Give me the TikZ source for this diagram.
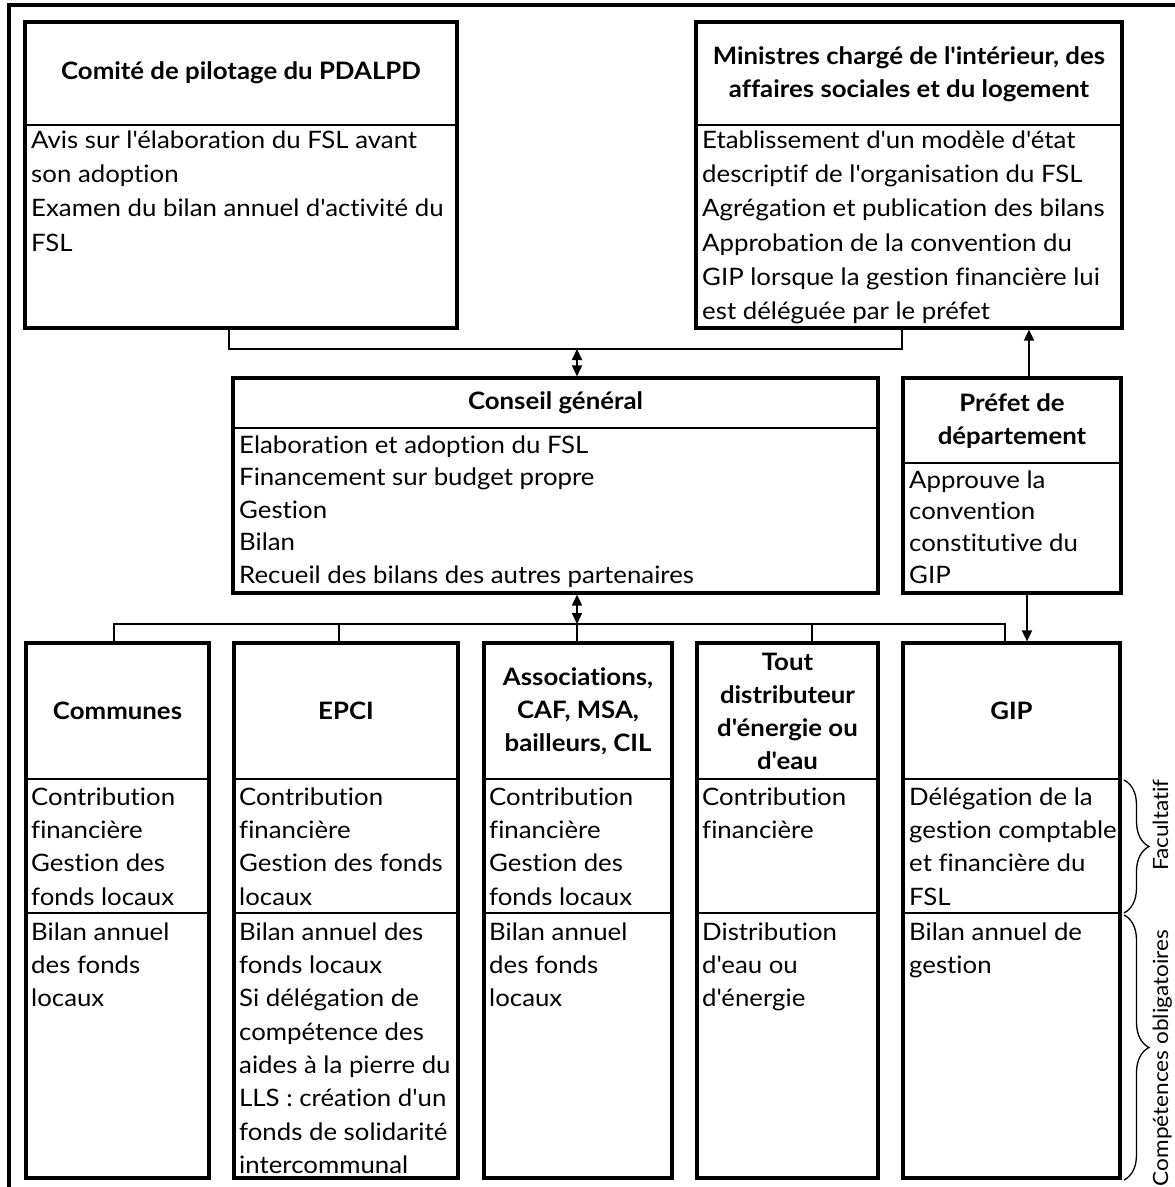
\documentclass[tikz,border=0pt]{standalone}
\usepackage{fontspec}
\setmainfont{Lato}[Ligatures={TeXOff,CommonOff}, FakeStretch=1.075]
\usetikzlibrary{arrows.meta,decorations.pathreplacing}
\tikzset{
  box/.style={draw, line width=3.2pt, inner sep=0pt},
  divline/.style={line width=2.6pt},
  conn/.style={line width=1.8pt},
  arr/.style={conn, -{Triangle[length=11pt,width=10pt]}},
  dblarr/.style={conn, {Triangle[length=11pt,width=10pt]}-{Triangle[length=11pt,width=10pt]}},
  frameline/.style={line width=4pt},
  head/.style={font=\bfseries\fontsize{24}{33}\selectfont, align=center, inner sep=0pt},
  body/.style={anchor=north west, inner sep=0pt, align=left, font=\fontsize{24}{#1}\selectfont},
  side/.style={rotate=90, anchor=base, inner sep=0pt, font=\fontsize{21}{25}\selectfont},
  bracel/.style={decorate, decoration={brace, amplitude=25pt}, line width=1.3pt}
}
\begin{document}
\begin{tikzpicture}[x=1pt,y=-1pt]
\useasboundingbox (0,0) rectangle (1175,1187);
% outer frame
\draw[frameline] (9,1187) -- (9,5) -- (1175,5);

% boxes
\node[box, minimum width=432, minimum height=306] (comite) at (241,175) {};
\node[box, minimum width=426, minimum height=306] (ministres) at (909,175) {};
\node[box, minimum width=645, minimum height=215] (conseil) at (555.5,485.5) {};
\node[box, minimum width=218, minimum height=215] (prefet) at (1012,485.5) {};
\node[box, minimum width=183, minimum height=535] (communes) at (117.5,910.5) {};
\node[box, minimum width=224, minimum height=535] (epci) at (346,910.5) {};
\node[box, minimum width=188, minimum height=535] (assoc) at (578,910.5) {};
\node[box, minimum width=181, minimum height=535] (tout) at (787.5,910.5) {};
\node[box, minimum width=217, minimum height=535] (gip) at (1011.5,910.5) {};

% dividers
\coordinate (d1) at (0,125);
\coordinate (d2) at (0,428);
\coordinate (d3) at (0,463);
\coordinate (d4) at (0,779);
\coordinate (d5) at (0,913);
\draw[divline] (comite.west |- d1) -- (comite.east |- d1);
\draw[divline] (ministres.west |- d1) -- (ministres.east |- d1);
\draw[divline] (conseil.west |- d2) -- (conseil.east |- d2);
\draw[divline] (prefet.west |- d3) -- (prefet.east |- d3);
\foreach \b in {communes,epci,assoc,tout,gip}{
  \draw[divline] (\b.west |- d4) -- (\b.east |- d4);
  \draw[divline] (\b.west |- d5) -- (\b.east |- d5);
}

% headers
\node[head] (comiteh) at (241,73) {Comité de pilotage du PDALPD};
\node[head] (ministresh) at (909,74) {Ministres chargé de l'intérieur, des\\affaires sociales et du logement};
\node[head] (conseilh) at (555.5,403) {Conseil général};
\node[head] (prefeth) at (1012,421) {Préfet de\\département};
\node[head] (communesh) at (117.5,711) {Communes};
\node[head] (epcih) at (346,711) {EPCI};
\node[head] (assoch) at (578,711) {Associations,\\CAF, MSA,\\bailleurs, CIL};
\node[head] (touth) at (787.5,711) {Tout\\distributeur\\d'énergie ou\\d'eau};
\node[head] (giph) at (1011.5,711) {GIP};

% bodies
\node[body=34.3] (comiteb) at (31,124) {\strut Avis sur l'élaboration du FSL avant\\son adoption\\Examen du bilan annuel d'activité du\\FSL};
\node[body=34.3] (ministresb) at (702,124) {\strut Etablissement d'un modèle d'état\\descriptif de l'organisation du FSL\\Agrégation et publication des bilans\\Approbation de la convention du\\GIP lorsque la gestion financière lui\\est déléguée par le préfet};
\node[body=32.5] (conseilb) at (239,430.3) {\strut Elaboration et adoption du FSL\\Financement sur budget propre\\Gestion\\Bilan\\Recueil des bilans des autres partenaires};
\node[body=31.7] (prefetb) at (909,465.8) {\strut Approuve la\\convention\\constitutive du\\GIP};

\node[body=33.3] (communesb1) at (31,781.7) {\strut Contribution\\financière\\Gestion des\\fonds locaux};
\node[body=33.3] (epcib1) at (239,781.7) {\strut Contribution\\financière\\Gestion des fonds\\locaux};
\node[body=33.3] (assocb1) at (489,781.7) {\strut Contribution\\financière\\Gestion des\\fonds locaux};
\node[body=33.3] (toutb1) at (702,781.7) {\strut Contribution\\financière};
\node[body=33.3] (gipb1) at (909,781.7) {\strut Délégation de la\\gestion comptable\\et financière du\\FSL};

\node[body=33.3] (communesb2) at (31,916.7) {\strut Bilan annuel\\des fonds\\locaux};
\node[body=33.3] (epcib2) at (239,916.7) {\strut Bilan annuel des\\fonds locaux\\Si délégation de\\compétence des\\aides à la pierre du\\LLS : création d'un\\fonds de solidarité\\intercommunal};
\node[body=33.3] (assocb2) at (489,916.7) {\strut Bilan annuel\\des fonds\\locaux};
\node[body=33.3] (toutb2) at (702,916.7) {\strut Distribution\\d'eau ou\\d'énergie};
\node[body=33.3] (gipb2) at (909,916.7) {\strut Bilan annuel de\\gestion};

% top connectors
\coordinate (tl) at (229,349);
\coordinate (tm) at (577,349);
\coordinate (tr) at (902,349);
\draw[conn] (comite.south -| tl) -- (tl) -- (tr) -- (ministres.south -| tr);
\draw[dblarr] (tm) -- (conseil.north -| tm);

% prefet arrows
\coordinate (pu) at (1029,0);
\coordinate (pd) at (1027,0);
\draw[arr] (prefet.north -| pu) -- (ministres.south -| pu);
\draw[arr] (prefet.south -| pd) -- (gip.north -| pd);

% bottom bar
\coordinate (b1) at (114,624);
\coordinate (b2) at (339,624);
\coordinate (b3) at (577,624);
\coordinate (b4) at (812,624);
\coordinate (b5) at (1005,624);
\draw[conn] (communes.north -| b1) -- (b1) -- (b5) -- (gip.north -| b5);
\draw[conn] (b2) -- (epci.north -| b2);
\draw[conn] (b3) -- (assoc.north -| b3);
\draw[conn] (b4) -- (tout.north -| b4);
\draw[dblarr] (conseil.south -| b3) -- (b3);

% braces and side labels
\coordinate (fa) at (1124,780);
\coordinate (fb) at (1124,913);
\coordinate (ca) at (1124,915);
\coordinate (cb) at (1124,1180);
\draw[bracel] (fa) -- (fb);
\draw[bracel] (ca) -- (cb);
\node[side] (fac) at (1168,825) {Facultatif};
\node[side] (comp) at (1168,1058) {Compétences obligatoires};
\end{tikzpicture}
\end{document}
